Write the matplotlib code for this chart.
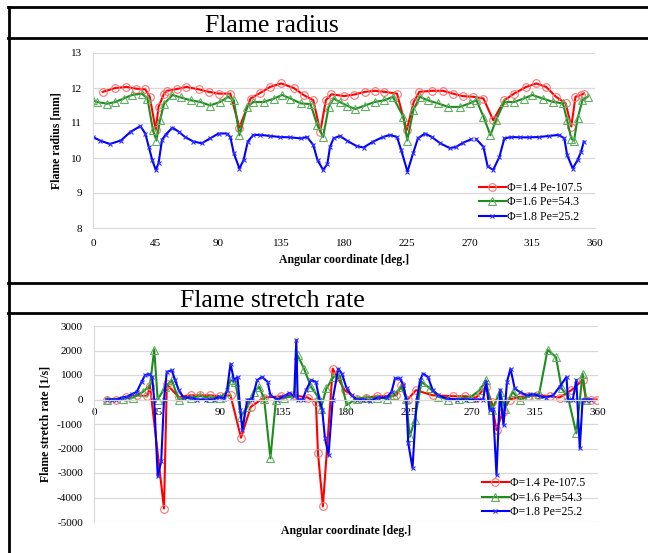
import numpy as np
import matplotlib
matplotlib.use("Agg")
from matplotlib import pyplot as plt
from matplotlib.lines import Line2D

plt.rcParams['font.family'] = ['Liberation Serif', 'DejaVu Serif']
plt.rcParams['axes.unicode_minus'] = False

labels = ['Φ=1.4 Pe-107.5', 'Φ=1.6 Pe=54.3', 'Φ=1.8 Pe=25.2']

# ---- flame radius [mm] ----
rad_ang_14 = [7, 16, 24, 31, 37.5, 40.7, 45, 47, 51, 53,
              60, 67, 76, 83, 90, 98.5, 105, 113, 120, 127,
              135, 144, 151, 158, 163, 167, 171, 180, 187, 195,
              202, 209, 218, 225, 230, 234, 243, 251, 258, 265,
              272.5, 280, 287, 295, 302, 310.6, 318, 325, 332, 339,
              343, 346, 350, 352]
rad_14 = [11.89, 12.0, 12.03, 11.98, 11.96, 11.75, 10.8, 11.46, 11.84, 11.92,
          11.97, 12.03, 11.96, 11.89, 11.84, 11.84, 10.87, 11.7, 11.86, 12.03,
          12.13, 12.0, 11.8, 11.65, 10.75, 11.65, 11.82, 11.77, 11.81, 11.89,
          11.92, 11.89, 11.84, 10.8, 11.6, 11.89, 11.92, 11.92, 11.84, 11.77,
          11.75, 11.7, 11.08, 11.65, 11.84, 12.03, 12.13, 12.03, 11.75, 11.56,
          10.9, 11.75, 11.8, 11.84]

rad_ang_16 = [0, 3, 10, 16, 22, 28, 35, 39, 43, 45.5,
              48, 51, 57, 63, 70, 77, 84, 91, 97, 101,
              105, 110.5, 115, 122.5, 130, 135.6, 141.6, 149, 156, 160.8,
              165, 169, 172.5, 177, 182, 188, 195, 202, 209, 215,
              222.5, 225.4, 229.7, 234.4, 240, 247.5, 254.7, 263, 270, 275,
              280, 285, 289, 295, 302, 309, 315, 322.5, 330, 337,
              340, 343, 345, 347.5, 351, 354.7]
rad_16 = [11.65, 11.6, 11.55, 11.6, 11.7, 11.8, 11.84, 11.7, 10.8, 10.5,
          11.08, 11.55, 11.8, 11.73, 11.65, 11.6, 11.5, 11.6, 11.75, 11.65,
          10.65, 11.46, 11.6, 11.6, 11.7, 11.8, 11.7, 11.56, 11.54, 10.94,
          10.6, 11.46, 11.7, 11.6, 11.5, 11.4, 11.5, 11.6, 11.65, 11.75,
          11.18, 10.5, 11.37, 11.75, 11.65, 11.56, 11.46, 11.46, 11.56, 11.65,
          11.18, 10.65, 11.08, 11.6, 11.6, 11.7, 11.8, 11.7, 11.6, 11.56,
          11.08, 10.55, 10.5, 11.13, 11.65, 11.75]

rad_ang_18 = [0, 5, 12, 20, 27, 34, 37.5, 40, 42.5, 45,
              47, 49.5, 52, 57, 61.5, 66, 72, 78, 84, 90,
              96, 98.5, 101, 105, 108, 111, 115, 120, 127, 134,
              141.5, 149, 153.5, 158, 161, 165, 168, 170, 172.5, 177,
              182, 189, 194, 201, 208, 213, 218, 221, 225.5, 229.5,
              233, 238, 243, 249, 256, 260.5, 265.5, 271, 273, 275,
              280, 283, 287, 291.5, 295, 300, 306, 313, 320, 327,
              334, 338, 340, 344, 347.5, 350, 352]
rad_18 = [10.6, 10.5, 10.4, 10.5, 10.75, 10.91, 10.7, 10.32, 9.94, 9.66,
          9.85, 10.52, 10.66, 10.87, 10.75, 10.6, 10.47, 10.42, 10.56, 10.7,
          10.7, 10.6, 10.13, 9.7, 9.94, 10.47, 10.66, 10.66, 10.63, 10.6,
          10.59, 10.56, 10.6, 10.37, 9.94, 9.66, 9.82, 10.32, 10.56, 10.63,
          10.5, 10.34, 10.3, 10.47, 10.6, 10.66, 10.6, 10.23, 9.61, 10.13,
          10.56, 10.7, 10.6, 10.42, 10.28, 10.32, 10.44, 10.53, np.nan, 10.53,
          10.32, 9.76, 9.66, 10.04, 10.56, 10.6, 10.59, 10.59, 10.6, 10.63,
          10.66, 10.56, 10.09, 9.7, 9.94, 10.18, 10.47]

# ---- flame stretch rate [1/s] ----
str_ang_14 = [9, 16, 23, 30.5, 38, 40, 50, 52, 60.5, 69,
              76, 83, 90, 97.5, 105, 112, 121.5, 133.5, 143, 152.5,
              158.5, 160, 163.5, 170.5, 179, 187.5, 194.5, 202, 209, 216,
              219.5, 224, 230, 242, 256.5, 265, 273, 280, 284, 287.5,
              292, 297, 304, 310, 317, 325.5, 332.5, 341, 349, 351.5,
              355, 359]
str_14 = [0, 0, 100, 170, 130, 550, -4450, 620, 100, 170,
          170, 170, 130, 170, -1560, -300, 80, 130, 170, 80,
          -100, -2200, -4360, 1260, 380, 40, 80, 135, 135, 170,
          580, 0, 380, 170, 135, 135, 80, 515, -100, -1250,
          -500, 0, 110, 135, 170, 135, 80, 380, 790, 0,
          0, 0]

str_ang_16 = [9, 21, 28, 35, 40, 43, 45.5, 51, 55.5, 60.5,
              69, 76, 83, 90, 95, 97.5, 101, 105, 109.5, 114,
              118, 121.5, 126, 130, 136, 143, 145.5, 150, 155, 160,
              162, 166, 171, 175.5, 180.5, 187.5, 194.5, 202, 209, 214,
              219.5, 223, 225.5, 229, 234, 240, 246, 253, 261, 268.5,
              275.5, 280, 284, 290, 293.5, 299, 304, 311, 318, 324,
              330, 334, 338.5, 344.5, 349, 351.5]
str_16 = [0, 40, 80, 310, 580, 2040, 0, 515, 790, 0,
          80, 135, 80, 80, 310, 790, 720, -700, -300, 310,
          515, 40, -2400, 0, 80, 135, 1800, 1260, 515, 110,
          -370, 450, 920, 990, -230, 40, 80, 80, 40, 170,
          515, 40, -1520, -840, 720, 450, 110, 0, 40, 80,
          380, 790, -430, 310, -370, 310, 0, 135, 240, 2030,
          1730, 450, 110, -1380, 1060, 0]

str_ang_18 = [9, 12.5, 16, 20, 23.5, 27, 30.5, 34, 36.5, 39,
              41.5, 43, 45.5, 48, 50, 52, 55.5, 58, 60.5, 64,
              69, 73.5, 80, 85.5, 89, 93, 95, 97.5, 100, 102.5,
              104.5, 106, 109.5, 113, 116.5, 120, 124, 126, 131, 136,
              139.5, 143, 144.5, 145.5, 149, 151.5, 155, 158.5, 161, 163,
              165, 167.5, 170.5, 174.5, 177, 180.5, 184, 187.5, 192, 197,
              203, 209, 212.5, 215, 218.5, 221, 223, 224.5, 227.5, 230.5,
              233, 235, 238.5, 242, 246, 252, 259, 266, 273, 278,
              280, 282.5, 285, 287.5, 290, 292.5, 295, 297.5, 300.5, 304,
              309, 313.5, 318.5, 323, 328, 332.5, 337.5, 338.5, 342, 344.5,
              347, 349, 351.5, 355]
str_18 = [0, 0, 0, 80, 110, 220, 310, 720, 1000, 1030,
          930, 0, -3140, -2530, 0, 1130, 1190, 790, 380, 80,
          80, 0, 0, 0, 110, 40, 380, 1460, 790, 920,
          -430, -1250, 0, 0, 790, 920, 720, 170, 0, 135,
          270, 135, 2420, 0, 0, 380, 790, 720, 0, -430,
          -1590, -2270, 0, 1260, 1060, 450, 170, 0, 0, -50,
          80, 80, 310, 860, 860, 580, 0, -1790, -2800, 0,
          790, 1060, 920, 380, 170, 40, 0, 0, 0, 0,
          720, -430, -370, -3080, 380, -1050, 720, 1260, 450, 310,
          170, 220, 135, 80, 170, 515, 920, 0, 0, 790,
          -1990, 0, 0, 0]

styles = [dict(color='#ff0000', marker='o', ms=5.5, mfc='none', mec='#ff7070', mew=0.8, lw=1.5),
          dict(color='#1e8c1e', marker='^', ms=5.5, mfc='none', mec='#60b060', mew=0.8, lw=1.5),
          dict(color='#0000ff', marker='x', ms=3.5, mec='#3030ff', mew=0.8, lw=1.5)]

fig = plt.figure(figsize=(6.48, 5.53), dpi=100)
W, H = 648, 553


def fx(px):
    return px / W


def fy(py):
    return 1 - py / H


# table lines
lw_tab = 2.0
for y in [7, 38, 283, 313]:
    fig.add_artist(Line2D([fx(8), 1], [fy(y), fy(y)], color='black', lw=lw_tab))
fig.add_artist(Line2D([fx(9), fx(9)], [fy(7), 0], color='black', lw=lw_tab))

fig.text(fx(272), fy(32), 'Flame radius', ha='center', va='baseline', fontsize=18.5)
fig.text(fx(272), fy(307), 'Flame stretch rate', ha='center', va='baseline', fontsize=18.5)

grid_c = '#d9d9d9'

# ---- top panel ----
ax1 = fig.add_axes([fx(93), fy(228), fx(595) - fx(93), fy(53) - fy(228)])
for ang, val, st, lab in zip([rad_ang_14, rad_ang_16, rad_ang_18], [rad_14, rad_16, rad_18], styles, labels):
    ax1.plot(ang, val, label=lab, **st)
ax1.set_xlim(0, 360)
ax1.set_ylim(8, 13)
ax1.set_xticks(np.arange(0, 361, 45))
ax1.set_yticks(np.arange(8, 14, 1))
ax1.yaxis.grid(True, color=grid_c, lw=0.9)
ax1.set_axisbelow(True)
for s in ['top', 'right']:
    ax1.spines[s].set_visible(False)
ax1.spines['left'].set_color(grid_c)
ax1.spines['bottom'].set_color(grid_c)
ax1.tick_params(length=0, labelsize=8, pad=8)
ax1.set_ylabel('Flame radius [mm]', fontsize=8.5, fontweight='bold', labelpad=6)
ax1.set_xlabel('Angular coordinate [deg.]', fontsize=8.5, fontweight='bold', labelpad=4)
ax1.legend(loc='lower right', bbox_to_anchor=(0.975, 0.03), frameon=False, fontsize=8.5,
           labelspacing=0.2, handlelength=2.3, handletextpad=0.1, borderaxespad=0, borderpad=0)

# ---- bottom panel ----
ax2 = fig.add_axes([fx(94), fy(522), fx(598) - fx(94), fy(326) - fy(522)])
for ang, val, st, lab in zip([str_ang_14, str_ang_16, str_ang_18], [str_14, str_16, str_18], styles, labels):
    ax2.plot(ang, val, label=lab, **st)
ax2.set_xlim(0, 360)
ax2.set_ylim(-5000, 3000)
ax2.set_xticks(np.arange(0, 361, 45))
ax2.set_yticks(np.arange(-5000, 3001, 1000))
ax2.yaxis.grid(True, color=grid_c, lw=0.9)
ax2.set_axisbelow(True)
for s in ['top', 'right']:
    ax2.spines[s].set_visible(False)
ax2.spines['left'].set_color(grid_c)
ax2.spines['bottom'].set_position(('data', 0))
ax2.spines['bottom'].set_color(grid_c)
ax2.tick_params(length=0, labelsize=8)
ax2.tick_params(axis='y', pad=8)
ax2.tick_params(axis='x', pad=6)
ax2.set_ylabel('Flame stretch rate [1/s]', fontsize=8.5, fontweight='bold', labelpad=4)
ax2.text(0.5, -0.045, 'Angular coordinate [deg.]', transform=ax2.transAxes, ha='center', va='center',
         fontsize=8.5, fontweight='bold')
ax2.legend(loc='lower right', bbox_to_anchor=(0.975, 0.02), frameon=False, fontsize=8.5,
           labelspacing=0.2, handlelength=2.3, handletextpad=0.1, borderaxespad=0, borderpad=0)

fig.savefig('out.png', dpi=100)
